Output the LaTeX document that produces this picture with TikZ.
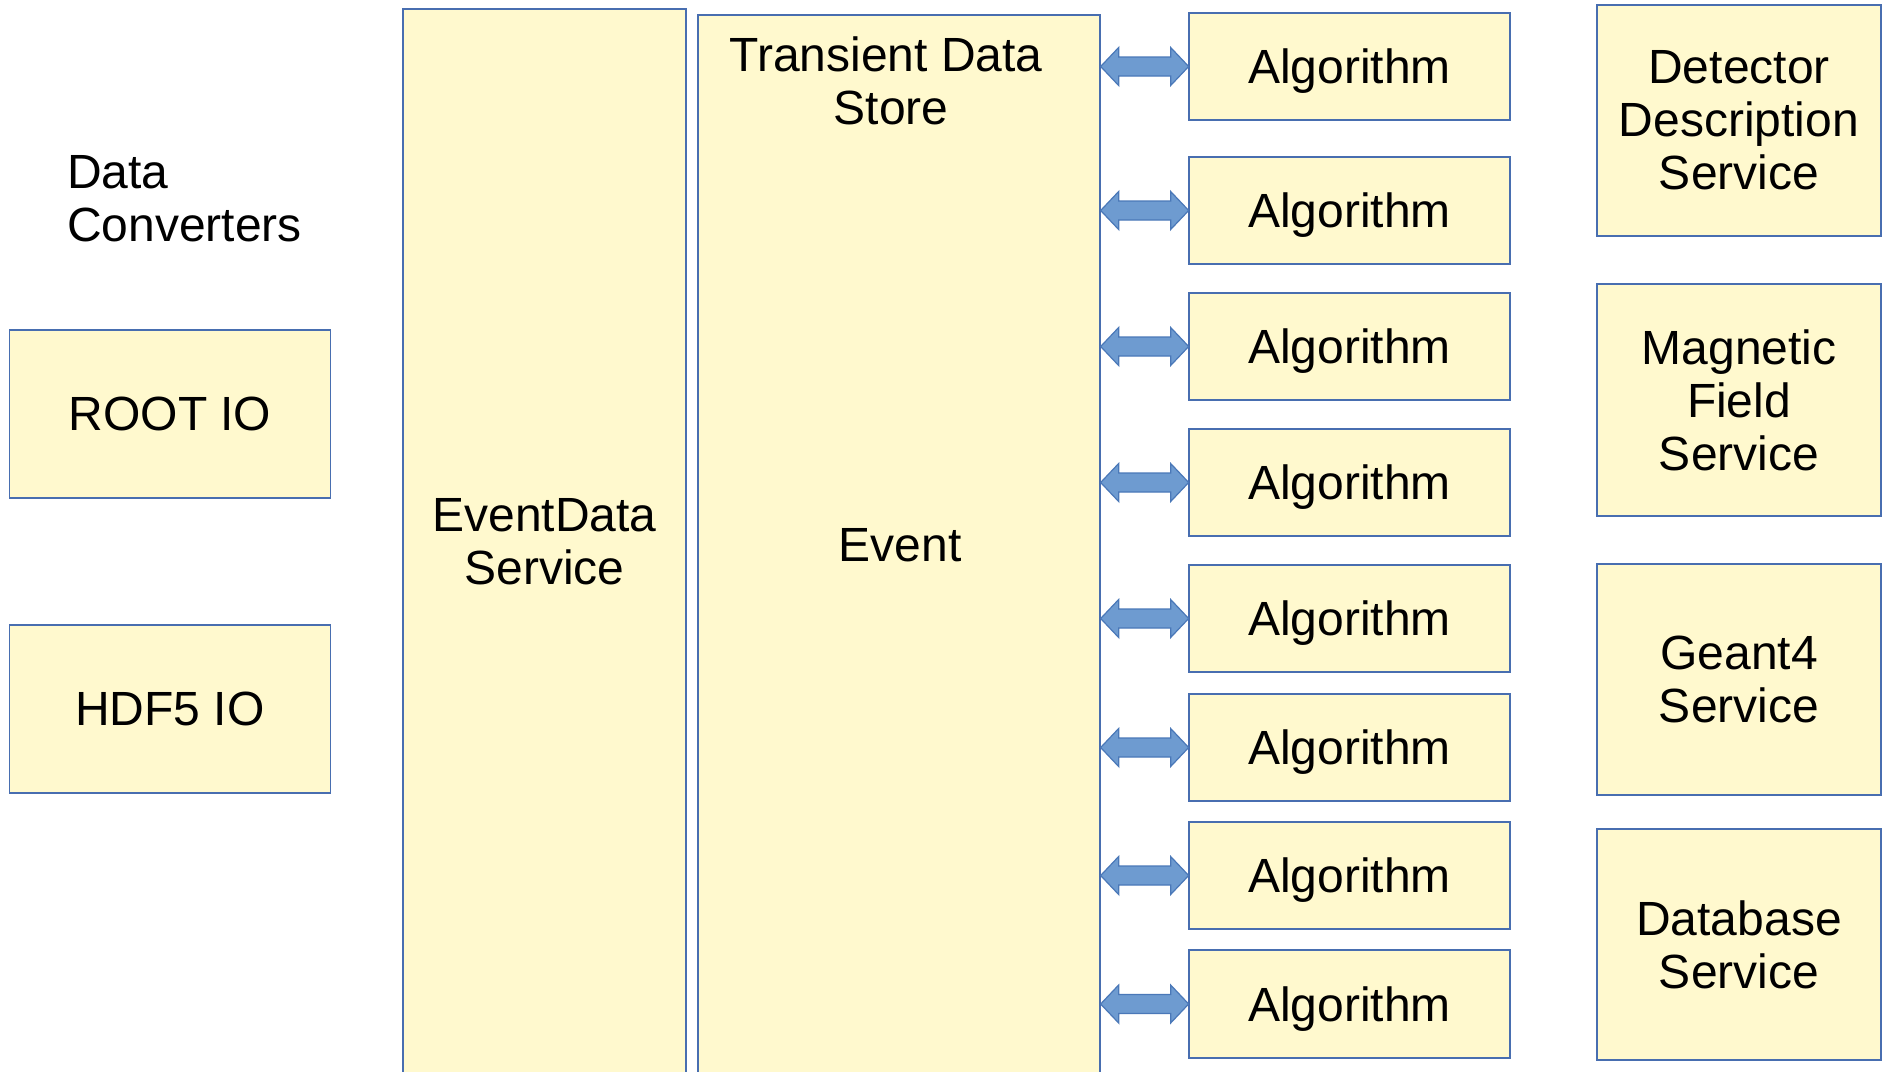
\documentclass[tikz,border=0pt]{standalone}
\usepackage{fontspec}
\setmainfont{Liberation Sans}
\definecolor{boxfill}{RGB}{255,249,206}
\definecolor{boxline}{RGB}{72,110,176}
\definecolor{arrfill}{RGB}{110,155,208}
\definecolor{arrline}{RGB}{74,120,184}
\tikzset{
  box/.style={draw=boxline, fill=boxfill, line width=1.3pt, rectangle, inner sep=0pt, align=center,
    font=\fontsize{48}{53}\selectfont},
  txt/.style={inner sep=0pt, font=\fontsize{48}{53}\selectfont},
  fatarrow/.style={draw=arrline, fill=arrfill, line width=1.2pt, line join=miter},
}
\newcommand\fatdbl[2]{%
  \draw[fatarrow] (#1.east |- #2.west) -- ++(18,-19) -- ++(0,9.5) -- ++(52,0) -- ++(0,-9.5)
    -- ++(18,19) -- ++(-18,19) -- ++(0,-9.5) -- ++(-52,0) -- ++(0,9.5) -- cycle;}
\begin{document}
\begin{tikzpicture}[x=1pt,y=-1pt]
\useasboundingbox[fill=white] (0,0) rectangle (1889,1071);
% left
\node[txt, anchor=west, align=left] (dc) at (67,199) {Data\\Converters};
\node[box, minimum width=321pt, minimum height=168pt] (root) at (170,414) {ROOT IO};
\node[box, minimum width=321pt, minimum height=168pt] (hdf) at (170,709) {HDF5 IO};
% tall boxes
\node[box, minimum width=283pt, minimum height=1076pt, text depth=12pt] (eds) at (544.5,547) {EventData\\Service};
\node[box, minimum width=402pt, minimum height=1070pt] (ev) at (899,550) {};
\node[txt] (evt) at (900,545) {Event};
\node[txt, align=center] (tds) at (886,81) {Transient Data\\\hspace*{10pt}Store};
% algorithms
\foreach \i/\t/\b in {1/13/120, 2/157/264, 3/293/400, 4/429/536, 5/565/672, 6/694/801, 7/822/929, 8/950/1058}{
  \node[box, text depth=0pt, minimum width=321pt, minimum height=\b-\t pt] (a\i) at (1349.5,{(\t+\b)/2}) {Algorithm};
}
\foreach \i in {1,...,8}{ \fatdbl{ev}{a\i} }
% services
\node[box, minimum width=284pt, minimum height=231pt] (det) at (1739,120.5) {Detector\\Description\\Service};
\node[box, minimum width=284pt, minimum height=232pt] (mag) at (1739,400) {Magnetic\\Field\\Service};
\node[box, minimum width=284pt, minimum height=231pt] (g4) at (1739,679.5) {Geant4\\Service};
\node[box, minimum width=284pt, minimum height=231pt] (db) at (1739,944.5) {Database\\Service};
\end{tikzpicture}
\end{document}
